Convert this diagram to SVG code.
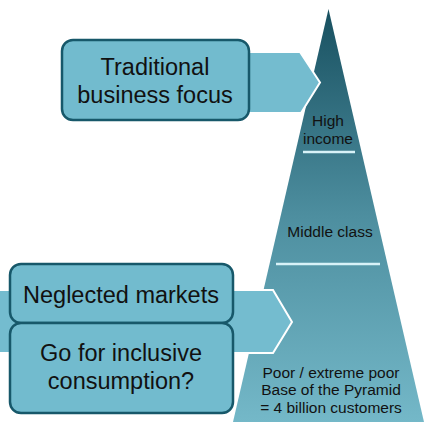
<svg xmlns="http://www.w3.org/2000/svg" width="425" height="422" viewBox="0 0 425 422">
<defs>
<linearGradient id="pg" x1="0" y1="9" x2="0" y2="422" gradientUnits="userSpaceOnUse">
<stop offset="0" stop-color="#185060"/>
<stop offset="0.5" stop-color="#4d8e9f"/>
<stop offset="1" stop-color="#74b8c8"/>
</linearGradient>
<style>
.arrow{fill:#74bccf;stroke:#ffffff;stroke-width:2}
.box{fill:#72bbce;stroke:#17586a;stroke-width:2.5}
.big{font-family:"Liberation Sans",Arial,Helvetica,sans-serif;font-size:23.5px;fill:#111;text-anchor:middle}
.sm{font-family:"Liberation Sans",Arial,Helvetica,sans-serif;font-size:15.5px;fill:#111;text-anchor:middle}
.sep{stroke:#d8f2f8;stroke-width:2.5}
</style>
</defs>
<rect width="425" height="422" fill="#ffffff"/>
<g id="pyramid">
<polygon points="328.5,9 424,422 233,422" fill="url(#pg)"/>
<line class="sep" x1="303" y1="152" x2="355" y2="152"/>
<line class="sep" x1="276" y1="264" x2="380" y2="264"/>
<text class="sm" x="328" y="126">High</text>
<text class="sm" x="328" y="144">income</text>
<text class="sm" x="330" y="237">Middle class</text>
<text class="sm" x="331" y="378">Poor / extreme poor</text>
<text class="sm" x="331" y="395">Base of the Pyramid</text>
<text class="sm" x="331" y="413">= 4 billion customers</text>
</g>
<g id="connectors">
<polygon class="arrow" points="200,52 300,52 320,82.5 301,113 200,113"/>
<polygon class="arrow" points="-5,290 273,290 292,322 273,353 -5,353"/>
</g>
<g id="traditional">
<rect class="box" x="62" y="40" width="187" height="80" rx="11"/>
<text class="big" x="155" y="74.5">Traditional</text>
<text class="big" x="155" y="103">business focus</text>
</g>
<g id="neglected">
<rect class="box" x="10" y="264" width="223" height="59" rx="11"/>
<text class="big" x="121" y="303">Neglected markets</text>
</g>
<g id="inclusive">
<rect class="box" x="10" y="323" width="223" height="90" rx="11"/>
<text class="big" x="121" y="361">Go for inclusive</text>
<text class="big" x="121" y="389">consumption?</text>
</g>
</svg>
